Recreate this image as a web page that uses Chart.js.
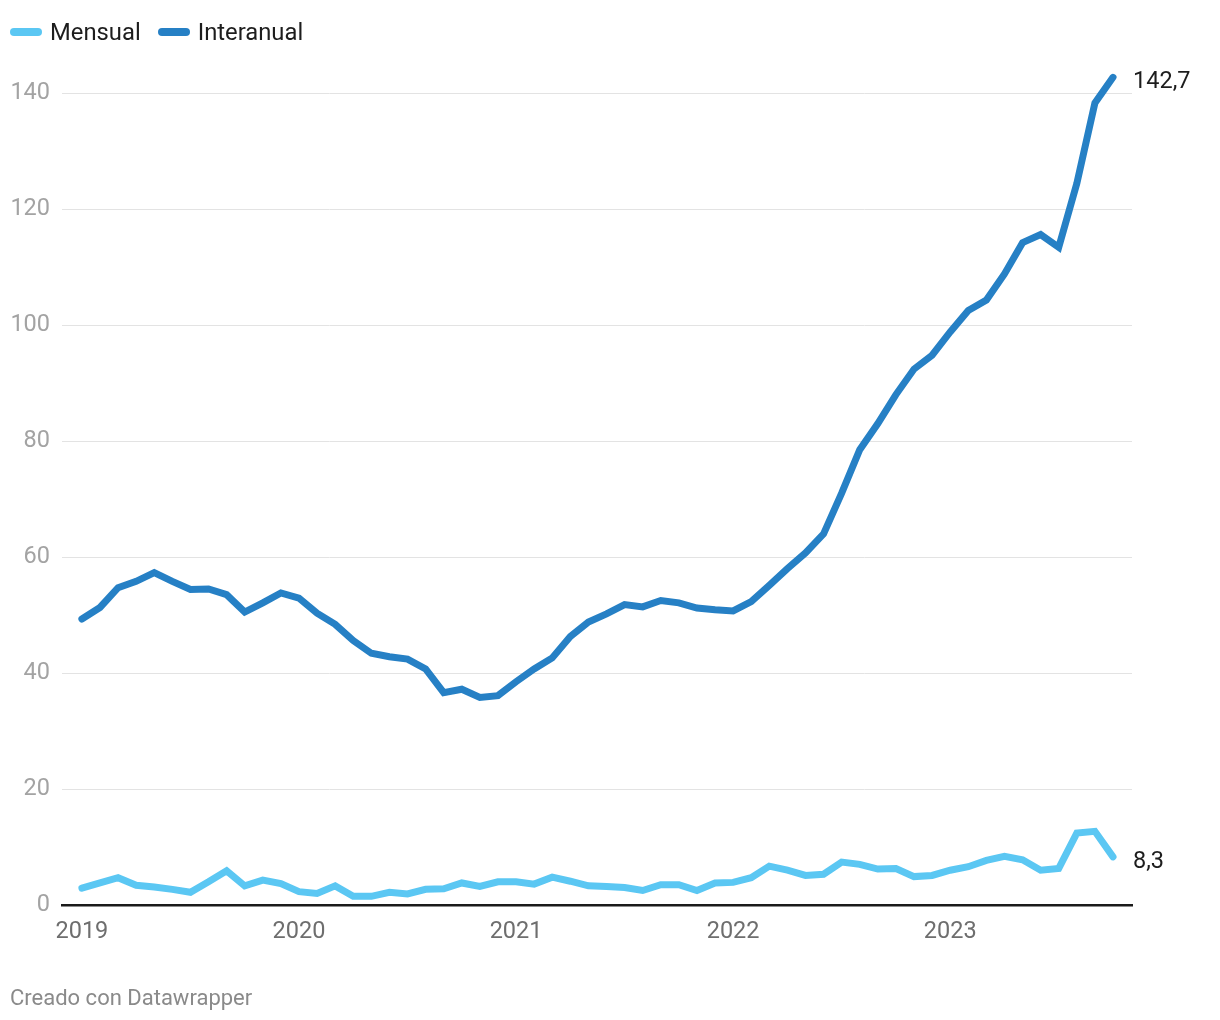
<!DOCTYPE html>
<html>
<head>
<meta charset="utf-8">
<script src="https://cdn.jsdelivr.net/npm/chart.js@4/dist/chart.umd.min.js"></script>
<style>
  html, body { margin: 0; padding: 0; background: #fff; }
  body { width: 1220px; height: 1020px; position: relative; overflow: hidden; font-family: Roboto, "Noto Sans", sans-serif; }
  #wrap { position: absolute; left: 0; top: 0; width: 1220px; height: 1020px; }
  .legend { position: absolute; top: 18px; left: 10px; display: flex; align-items: center; font-size: 23.8px; color: #1d1d1d; }
  .legend .item { display: flex; align-items: center; margin-right: 17px; }
  .legend .sw { width: 32px; height: 8px; border-radius: 4px; margin-right: 8px; }
  .footer { position: absolute; left: 10px; top: 985px; font-size: 22px; color: #8a8a8a; }
</style>
</head>
<body>
<div id="wrap"><canvas id="c" width="1220" height="1020"></canvas></div>
<div class="legend">
  <div class="item"><span class="sw" style="background:#5bc7f3"></span><span>Mensual</span></div>
  <div class="item"><span class="sw" style="background:#2680c5"></span><span>Interanual</span></div>
</div>
<div class="footer">Creado con Datawrapper</div>
<script>
// Months: Jan 2019 .. Oct 2023
const months = [
  "2019-01","2019-02","2019-03","2019-04","2019-05","2019-06","2019-07","2019-08","2019-09","2019-10","2019-11","2019-12",
  "2020-01","2020-02","2020-03","2020-04","2020-05","2020-06","2020-07","2020-08","2020-09","2020-10","2020-11","2020-12",
  "2021-01","2021-02","2021-03","2021-04","2021-05","2021-06","2021-07","2021-08","2021-09","2021-10","2021-11","2021-12",
  "2022-01","2022-02","2022-03","2022-04","2022-05","2022-06","2022-07","2022-08","2022-09","2022-10","2022-11","2022-12",
  "2023-01","2023-02","2023-03","2023-04","2023-05","2023-06","2023-07","2023-08","2023-09","2023-10"
];
const mensual = [
  2.9,3.8,4.7,3.4,3.1,2.7,2.2,4.0,5.9,3.3,4.3,3.7,
  2.3,2.0,3.3,1.5,1.5,2.2,1.9,2.7,2.8,3.8,3.2,4.0,
  4.0,3.6,4.8,4.1,3.3,3.2,3.0,2.5,3.5,3.5,2.5,3.8,
  3.9,4.7,6.7,6.0,5.1,5.3,7.4,7.0,6.2,6.3,4.9,5.1,
  6.0,6.6,7.7,8.4,7.8,6.0,6.3,12.4,12.7,8.3
];
const interanual = [
  49.3,51.3,54.7,55.8,57.3,55.8,54.4,54.5,53.5,50.5,52.1,53.8,
  52.9,50.3,48.4,45.6,43.4,42.8,42.4,40.7,36.6,37.2,35.8,36.1,
  38.5,40.7,42.6,46.3,48.8,50.2,51.8,51.4,52.5,52.1,51.2,50.9,
  50.7,52.3,55.1,58.0,60.7,64.0,71.0,78.5,83.0,88.0,92.4,94.8,
  98.8,102.5,104.3,108.8,114.2,115.6,113.4,124.4,138.3,142.7
];
const yearLabels = ["2019","2020","2021","2022","2023"];
const yTicks = [0,20,40,60,80,100,120,140];
const seriesNames = ["Mensual","Interanual"];
const endLabels = ["8,3","142,7"];

const colMensual = "#5bc7f3";
const colInter = "#2680c5";

const toPts = arr => arr.map((v, i) => ({x: i, y: v}));

const endLabelPlugin = {
  id: 'endLabels',
  afterDatasetsDraw(chart) {
    const ctx = chart.ctx;
    ctx.save();
    ctx.font = '23.5px Roboto, "Noto Sans", sans-serif';
    ctx.fillStyle = '#1d1d1d';
    ctx.textAlign = 'left';
    ctx.textBaseline = 'middle';
    chart.data.datasets.forEach((ds, di) => {
      const meta = chart.getDatasetMeta(di);
      const pt = meta.data[meta.data.length - 1];
      ctx.fillText(endLabels[di], pt.x + 20, pt.y + 5);
    });
    ctx.restore();
  }
};

new Chart(document.getElementById('c'), {
  type: 'line',
  data: {
    datasets: [
      { label: seriesNames[0], data: toPts(mensual), borderColor: colMensual, backgroundColor: colMensual,
        borderWidth: 7, pointRadius: 0, tension: 0, borderCapStyle: 'round', borderJoinStyle: 'miter', clip: false },
      { label: seriesNames[1], data: toPts(interanual), borderColor: colInter, backgroundColor: colInter,
        borderWidth: 7, pointRadius: 0, tension: 0, borderCapStyle: 'round', borderJoinStyle: 'miter', clip: false }
    ]
  },
  options: {
    responsive: false,
    animation: false,
    layout: { padding: { top: 93, right: 88, bottom: 55, left: 0 } },
    plugins: { legend: { display: false }, tooltip: { enabled: false } },
    scales: {
      x: {
        type: 'linear',
        min: -1.1,
        max: 58.05,
        afterBuildTicks(scale) {
          scale.ticks = yearLabels.map((_, i) => ({ value: i * 12 }));
        },
        afterFit(scale) { scale.height = 60; },
        ticks: {
          autoSkip: false,
          maxRotation: 0,
          padding: 13,
          color: '#6e6e6e',
          font: { family: 'Roboto', size: 23.5 },
          callback(v) { const i = Math.round(v / 12); return yearLabels[i]; }
        },
        grid: { display: false, drawTicks: false },
        border: { display: true, color: '#1a1a1a', width: 2.5 }
      },
      y: {
        min: 0,
        max: 140,
        afterBuildTicks(scale) {
          scale.ticks = yTicks.map(v => ({ value: v }));
        },
        afterFit(scale) { scale.width = 62; },
        ticks: {
          padding: 12,
          color: '#a3a3a3',
          font: { family: 'Roboto', size: 23.5 },
          callback(v) { return String(v); }
        },
        grid: { color: '#e3e3e3', lineWidth: 1, drawTicks: false },
        border: { display: false }
      }
    }
  },
  plugins: [endLabelPlugin]
});
</script>
</body>
</html>
